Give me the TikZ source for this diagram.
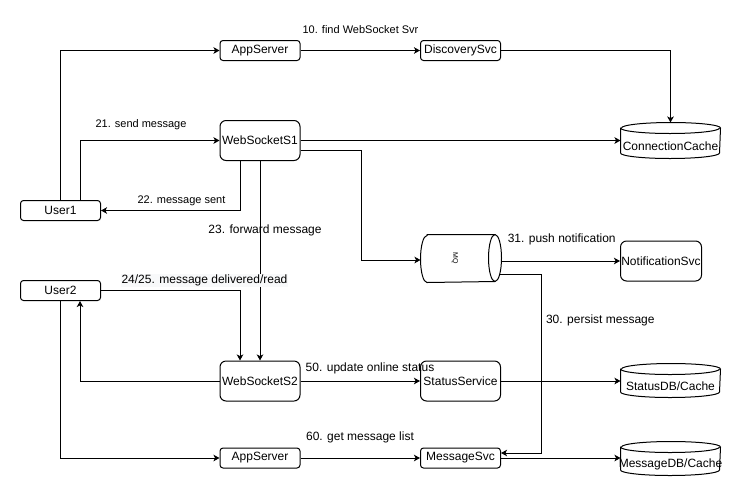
\documentclass[tikz,border=0pt]{standalone}
\usepackage{fontspec}
\setmainfont{Liberation Sans}
\usetikzlibrary{arrows.meta}
\definecolor{lblbg}{HTML}{F8F9FA}

% vertical database cylinder drawn around a named node
\newcommand\dbshape[1]{%
  \draw ([yshift=-5.5pt]#1.north west) -- ([yshift=5.5pt]#1.south west)
    arc[start angle=180,end angle=360,x radius=49.5pt,y radius=5.5pt]
    -- ([yshift=-5.5pt]#1.north east)
    arc[start angle=0,end angle=180,x radius=49.5pt,y radius=5.5pt] -- cycle;
  \draw ([yshift=-5.5pt]#1.north west)
    arc[start angle=180,end angle=360,x radius=49.5pt,y radius=5.5pt];}

\begin{document}
\begin{tikzpicture}[x=1pt,y=-1pt,line width=1pt,
  box/.style={draw,rounded corners=3pt,minimum width=80pt,minimum height=20pt,
    inner sep=0pt,font=\fontsize{12}{14}\selectfont},
  tallbox/.style={box,minimum height=40pt,rounded corners=6pt},
  db/.style={minimum width=99pt,inner sep=0pt},
  dbtext/.style={inner sep=0pt,font=\fontsize{12}{14}\selectfont},
  lbl/.style={inner sep=0pt,font=\fontsize{12}{14}\selectfont},
  smalllbl/.style={lbl,font=\fontsize{11}{13}\selectfont},
  arr/.style={draw,-{Stealth[length=6pt,width=6.5pt,inset=1.5pt]}}]

\useasboundingbox (0,0) rectangle (743,496);
\fill[white] (0,0) rectangle (743,496);

% services and clients
\node[box] (app1) at (260,50.5) {AppServer};
\node[box] (disc) at (460.5,50.5) {DiscoverySvc};
\node[tallbox] (ws1) at (260,140.5) {WebSocketS1};
\node[box] (user1) at (60.5,210.5) {User1};
\node[tallbox,minimum width=81pt] (notif) at (661,261) {NotificationSvc};
\node[box] (user2) at (60.5,290.5) {User2};
\node[tallbox] (ws2) at (260,381) {WebSocketS2};
\node[tallbox] (status) at (460.5,381) {StatusService};
\node[box] (app2) at (260,458) {AppServer};
\node[box] (msg) at (460.5,458) {MessageSvc};

% data stores
\node[db,minimum height=35pt] (cc) at (670.5,140.5) {};
\dbshape{cc}
\node[dbtext] (cc-t) at ([yshift=-5.5pt]cc.center) {ConnectionCache};
\node[db,minimum height=33pt] (sdb) at (670.5,380.5) {};
\dbshape{sdb}
\node[dbtext] (sdb-t) at ([yshift=-6pt]sdb.center) {StatusDB/Cache};
\node[db,minimum height=33pt] (mdb) at (670.5,458.5) {};
\dbshape{mdb}
\node[dbtext] (mdb-t) at ([yshift=-6pt]mdb.center) {MessageDB/Cache};

% message queue: horizontal cylinder
\node[minimum width=80pt,minimum height=47pt,inner sep=0pt] (mq) at (461,258.5) {};
\draw ([xshift=6.5pt]mq.north west) -- ([xshift=-6.5pt]mq.north east)
  arc[start angle=90,end angle=-90,x radius=6.5pt,y radius=23.5pt]
  -- ([xshift=6.5pt]mq.south west)
  arc[start angle=270,end angle=90,x radius=6.5pt,y radius=23.5pt] -- cycle;
\draw ([xshift=-6.5pt]mq.north east)
  arc[start angle=90,end angle=270,x radius=6.5pt,y radius=23.5pt];
\node[rotate=-90,inner sep=0pt,font=\fontsize{7}{8}\selectfont] (mq-t)
  at ([xshift=-6pt]mq.center) {MQ};

% bend points
\coordinate (bend-mq) at (361,260);
\coordinate (bend-persist) at (541,453);

% connectors
\draw[arr] (user1.north) |- (app1.west);
\draw[arr] (app1.east) -- (disc.west);
\draw[arr] (disc.east) -| (cc.north);
\draw[arr] ([xshift=19.5pt]user1.north) |- (ws1.west);
\draw[arr] ([xshift=-20pt]ws1.south) |- (user1.east);
\draw[arr] (ws1.south) -- (ws2.north);
\draw[arr] (ws1.east) -- (cc.west);
\draw[arr] ([yshift=-9.5pt]ws1.east) -| (bend-mq) -- (bend-mq -| mq.west);
\draw[arr] (mq.east |- notif.west) -- (notif.west);
\draw[arr] ([xshift=-1.5pt,yshift=-15.5pt]mq.east) -| (bend-persist) -- (bend-persist -| msg.east);
\draw[arr] (user2.east) -| ([xshift=-20pt]ws2.north);
\draw[arr] (ws2.west) -| ([xshift=19.5pt]user2.south);
\draw[arr] (user2.south) |- (app2.west);
\draw[arr] (app2.east) -- (msg.west);
\draw[arr] (ws2.east) -- (status.west);
\draw[arr] (status.east) -- (status.east -| sdb.west);
\draw[arr] (msg.east) -- (msg.east -| mdb.west);

% connector labels
\node[smalllbl] (l10) at (360.5,29.5) {10. find WebSocket Svr};
\node[smalllbl] (l21) at (141,124.5) {21. send message};
\node[smalllbl] (l22) at (181.5,201) {22. message sent};
\node[lbl] (l23) at (265,230.5) {23. forward message};
\node[lbl,fill=lblbg,inner sep=1pt] (l24) at (204.5,280.5) {24/25. message delivered/read};
\node[lbl] (l31) at (561.7,239.5) {31. push notification};
\node[lbl] (l30) at (600.3,320) {30. persist message};
\node[lbl] (l50) at (370,368.5) {50. update online status};
\node[lbl] (l60) at (360,437.5) {60. get message list};
\end{tikzpicture}
\end{document}
